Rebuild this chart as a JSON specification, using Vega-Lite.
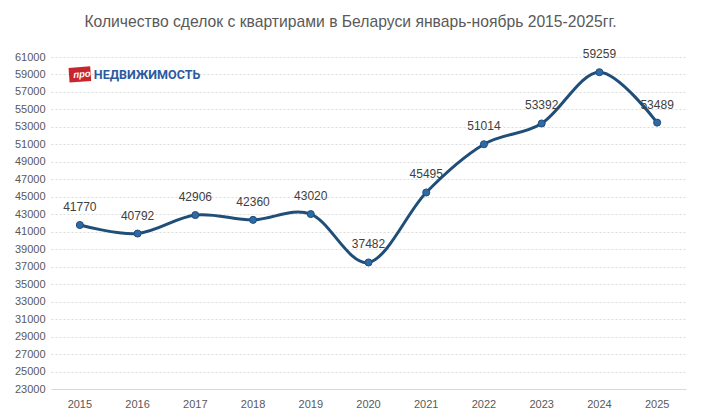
{
  "$schema": "https://vega.github.io/schema/vega-lite/v6.json",
  "description": "Количество сделок с квартирами в Беларуси, январь-ноябрь 2015-2025",
  "width": 635,
  "height": 332,
  "autosize": {"type": "none"},
  "padding": {"left": 51, "top": 57, "right": 15, "bottom": 31},
  "background": "white",
  "title": {
    "text": "Количество сделок с квартирами в Беларуси январь-ноябрь  2015-2025гг.",
    "font": "Liberation Sans",
    "fontSize": 15.7,
    "fontWeight": "normal",
    "color": "#595959",
    "anchor": "middle",
    "dx": -18,
    "offset": 18
  },
  "data": {
    "values": [
      {"year": "2015", "deals": 41770},
      {"year": "2016", "deals": 40792},
      {"year": "2017", "deals": 42906},
      {"year": "2018", "deals": 42360},
      {"year": "2019", "deals": 43020},
      {"year": "2020", "deals": 37482},
      {"year": "2021", "deals": 45495},
      {"year": "2022", "deals": 51014},
      {"year": "2023", "deals": 53392},
      {"year": "2024", "deals": 59259},
      {"year": "2025", "deals": 53489}
    ]
  },
  "encoding": {
    "x": {
      "field": "year",
      "type": "ordinal",
      "title": null,
      "scale": {"type": "band", "paddingInner": 0, "paddingOuter": 0},
      "axis": {
        "labelAngle": 0,
        "ticks": false,
        "grid": false,
        "domain": true,
        "domainColor": "#d9d9d9",
        "labelPadding": 9
      }
    },
    "y": {
      "field": "deals",
      "type": "quantitative",
      "title": null,
      "scale": {"domain": [23000, 61000], "nice": false, "zero": false},
      "axis": {
        "values": [23000, 25000, 27000, 29000, 31000, 33000, 35000, 37000, 39000, 41000, 43000, 45000, 47000, 49000, 51000, 53000, 55000, 57000, 59000, 61000],
        "format": "d",
        "ticks": false,
        "domain": false,
        "grid": true,
        "gridColor": "#dcdcdc",
        "gridDash": [2, 2],
        "labelPadding": 6
      }
    }
  },
  "layer": [
    {
      "mark": {"type": "line", "interpolate": "cardinal", "color": "#1f4e79", "strokeWidth": 3}
    },
    {
      "mark": {"type": "point", "filled": true, "size": 50, "fill": "#2e6aa6", "stroke": "#1f4e79", "strokeWidth": 1, "opacity": 1}
    },
    {
      "mark": {"type": "text", "dy": -18, "fontSize": 12, "color": "#404040", "font": "Liberation Sans"},
      "encoding": {"text": {"field": "deals", "type": "quantitative", "format": "d"}}
    },
    {
      "data": {"values": [{"year": "2015", "deals": 59000, "brand": "про"}]},
      "mark": {"type": "point", "filled": true, "opacity": 1, "color": "#c8262c", "size": 470, "angle": -4, "dx": 2,
        "shape": "M-1,-0.68L1,-0.68L1,0.68L-1,0.68Z"}
    },
    {
      "data": {"values": [{"year": "2015", "deals": 59000, "brand": "про"}]},
      "mark": {"type": "text", "dx": 2, "dy": 0, "fontSize": 9.5, "fontWeight": "bold", "fontStyle": "italic", "color": "white", "font": "Liberation Sans", "angle": -4},
      "encoding": {"text": {"field": "brand"}}
    },
    {
      "data": {"values": [{"year": "2015", "deals": 59000, "brand": "НЕДВИЖИМОСТЬ"}]},
      "mark": {"type": "text", "align": "left", "dx": 14, "dy": 1, "fontSize": 12.5, "fontWeight": "bold", "color": "#2b5aa0", "font": "Roboto"},
      "encoding": {"text": {"field": "brand"}}
    }
  ],
  "config": {
    "view": {"stroke": null},
    "axis": {
      "labelFont": "Liberation Sans",
      "labelFontSize": 11,
      "labelColor": "#595959"
    }
  }
}
